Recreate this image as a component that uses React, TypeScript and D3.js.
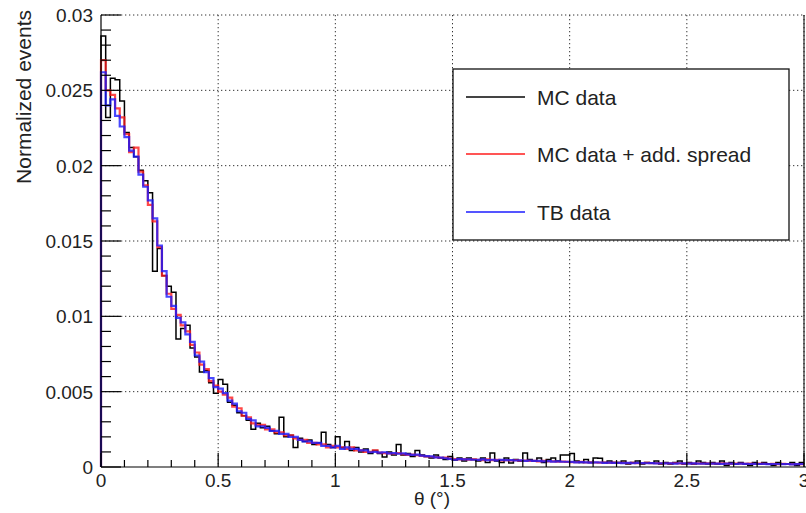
import React, { useEffect, useRef } from "react";
import * as d3 from "d3";

// histogram binning: 150 bins of 0.02 deg between 0 and 3
const binCount = 150;
const binWidth = 0.02;

const mcData = [
  0.0286, 0.0232, 0.0258, 0.0257, 0.0243, 0.0222, 0.0212, 0.0206, 0.0197, 0.019,
  0.0182, 0.013, 0.0145, 0.0127, 0.012, 0.0116, 0.0085, 0.0092, 0.0094, 0.0079,
  0.0073, 0.0063, 0.0064, 0.0056, 0.0049, 0.0058, 0.0055, 0.0043, 0.0041, 0.0036,
  0.0034, 0.0031, 0.0025, 0.0029, 0.0026, 0.0027, 0.0024, 0.0022, 0.0033, 0.002,
  0.0021, 0.0013, 0.0019, 0.0017, 0.0018, 0.0015, 0.0016, 0.0023, 0.0015, 0.0013,
  0.002, 0.0013, 0.0017, 0.0011, 0.0013, 0.001, 0.0012, 0.0009, 0.0011, 0.0009,
  0.00066, 0.001, 0.0008, 0.0015, 0.0008, 0.0009, 0.0007, 0.0011, 0.0008, 0.0007,
  0.0006, 0.0008, 0.0006, 0.0005, 0.0007, 0.00046, 0.0006, 0.0004, 0.0006, 0.0005,
  0.0004, 0.0006, 0.0003, 0.00093, 0.0004, 0.0003, 0.0006, 0.00027, 0.0005, 0.0004,
  0.00093, 0.0005, 0.0004, 0.0006, 0.0003, 0.0005, 0.0006, 0.0004, 0.0008, 0.0008,
  0.0009, 0.0004, 0.0003, 0.0005, 0.0003, 0.0006, 0.00058, 0.0003, 0.0004, 0.0003,
  0.0003, 0.0004, 0.0002, 0.0003, 0.0004, 0.0002, 0.0003, 0.00025, 0.0004, 0.0002,
  0.0003, 0.0002, 0.0003, 0.0004, 0.0002, 0.0003, 0.0002, 0.0004, 0.0003, 0.0002,
  0.0003, 0.0002, 0.0004, 0.0001, 0.0003, 0.0002, 0.0003, 0.0002, 0.0001, 0.0003,
  0.0002, 0.0003, 0.0002, 0.0001, 0.0003, 0.0002, 0.0002, 0.0003, 0.0001, 0.0003,
];

const mcSpread = [
  0.027, 0.025, 0.0247, 0.0238, 0.0232, 0.0221, 0.0209, 0.0212, 0.0196, 0.0187,
  0.0174, 0.0163, 0.0146, 0.0127, 0.0115, 0.0105, 0.0101, 0.0094, 0.009, 0.0081,
  0.0076, 0.0068, 0.0065, 0.0057, 0.0054, 0.005, 0.0048, 0.0046, 0.004, 0.0039,
  0.0034, 0.0033, 0.0029, 0.0028, 0.0028, 0.0025, 0.0025, 0.0023, 0.0023, 0.0021,
  0.0021, 0.0019, 0.0018, 0.0018, 0.0016, 0.0016, 0.0015, 0.0015, 0.0013, 0.0014,
  0.0013, 0.0013, 0.0012, 0.0013, 0.0011, 0.0011, 0.001, 0.001, 0.0011, 0.00095,
  0.00092, 0.0009, 0.00088, 0.00092, 0.00085, 0.0008, 0.00082, 0.00078, 0.00074, 0.0007,
  0.00068, 0.00066, 0.0006, 0.00062, 0.00056, 0.00052, 0.0005, 0.00052, 0.00048, 0.0005,
  0.00048, 0.00046, 0.0005, 0.00045, 0.00047, 0.00044, 0.00046, 0.00043, 0.00045, 0.00042,
  0.00042, 0.0004, 0.00041, 0.00038, 0.0004, 0.00037, 0.00038, 0.00035, 0.00036, 0.00034,
  0.00033, 0.00032, 0.00034, 0.0003, 0.00031, 0.0003, 0.00029, 0.0003, 0.00028, 0.00029,
  0.00027, 0.00028, 0.00026, 0.00027, 0.00026, 0.00025, 0.00027, 0.00025, 0.00026, 0.00024,
  0.00025, 0.00024, 0.00026, 0.00024, 0.00023, 0.00025, 0.00023, 0.00024, 0.00022, 0.00024,
  0.00023, 0.00022, 0.00024, 0.00022, 0.00021, 0.00023, 0.00022, 0.00021, 0.00022, 0.0002,
  0.00022, 0.00021, 0.0002, 0.00021, 0.00019, 0.00021, 0.0002, 0.00019, 0.0002, 0.00019,
];

const tbData = [
  0.0262, 0.024, 0.0244, 0.0233, 0.0226, 0.0219, 0.021, 0.0206, 0.0194, 0.0186,
  0.0177, 0.0165, 0.0147, 0.013, 0.0113, 0.0107, 0.0099, 0.0096, 0.0088, 0.0083,
  0.0074, 0.007, 0.0063, 0.0059, 0.0053, 0.0052, 0.0049, 0.0044, 0.0042, 0.0037,
  0.0036, 0.0032, 0.0031, 0.0027, 0.0027, 0.0026, 0.0024, 0.0024, 0.0022, 0.0022,
  0.002, 0.002, 0.0018, 0.0017, 0.0017, 0.0016, 0.0016, 0.0014, 0.0014, 0.0013,
  0.0014, 0.0012, 0.0013, 0.0012, 0.0012, 0.0011, 0.0011, 0.00098, 0.001, 0.00096,
  0.00098, 0.0009, 0.00092, 0.00088, 0.0009, 0.00084, 0.0008, 0.00082, 0.00076, 0.00072,
  0.0007, 0.00064, 0.00062, 0.00058, 0.00054, 0.00048, 0.00052, 0.0005, 0.0005, 0.00048,
  0.00047, 0.0005, 0.00046, 0.00048, 0.00044, 0.00047, 0.00045, 0.00046, 0.00043, 0.00044,
  0.00041, 0.00043, 0.0004, 0.0004, 0.00038, 0.00039, 0.00036, 0.00037, 0.00035, 0.00035,
  0.00034, 0.00031, 0.00032, 0.00031, 0.00029, 0.00031, 0.0003, 0.00028, 0.00029, 0.00028,
  0.00028, 0.00026, 0.00027, 0.00025, 0.00027, 0.00026, 0.00025, 0.00026, 0.00024, 0.00025,
  0.00024, 0.00025, 0.00023, 0.00025, 0.00024, 0.00022, 0.00024, 0.00023, 0.00023, 0.00022,
  0.00022, 0.00023, 0.00021, 0.00023, 0.00022, 0.0002, 0.00022, 0.00021, 0.0002, 0.00021,
  0.0002, 0.00021, 0.00019, 0.0002, 0.0002, 0.00019, 0.0002, 0.00018, 0.00019, 0.0002,
];

const seriesNames = ["MC data", "MC data + add. spread", "TB data"];
const seriesColors = ["#000000", "#ff1a1a", "#1a1aff"];
const legendColors = ["#444444", "#ff5555", "#5555ff"];

const xMajorTicks = [0, 0.5, 1, 1.5, 2, 2.5, 3];
const xTickLabels = ["0", "0.5", "1", "1.5", "2", "2.5", "3"];
const yMajorTicks = [0, 0.005, 0.01, 0.015, 0.02, 0.025, 0.03];
const yTickLabels = ["0", "0.005", "0.01", "0.015", "0.02", "0.025", "0.03"];

const xTitle = "θ (°)";
const yTitle = "Normalized events";

const FONT = "'Liberation Sans', Arial, Helvetica, sans-serif";

function App() {
  const ref = useRef<SVGSVGElement>(null);

  useEffect(() => {
    const svg = d3.select(ref.current);
    svg.selectAll("*").remove();

    const left = 101;
    const right = 804;
    const top = 15;
    const bottom = 467;

    const x = d3.scaleLinear().domain([0, 3]).range([left, right]);
    const y = d3.scaleLinear().domain([0, 0.03]).range([bottom, top]);

    // dotted grid at major ticks
    const grid = svg.append("g").attr("stroke", "#333").attr("stroke-width", 1)
      .attr("stroke-dasharray", "1.3,2.7");
    xMajorTicks.slice(1).forEach((t) => {
      grid.append("line").attr("x1", x(t)).attr("x2", x(t)).attr("y1", top).attr("y2", bottom);
    });
    yMajorTicks.slice(1).forEach((t) => {
      grid.append("line").attr("x1", left).attr("x2", right).attr("y1", y(t)).attr("y2", y(t));
    });

    // histograms as step lines
    const line = d3.line<[number, number]>().x((d) => x(d[0])).y((d) => y(d[1]));
    const allSeries = [mcData, mcSpread, tbData];
    const widths = [1.5, 2.2, 2.2];
    const plot = svg.append("g");
    allSeries.forEach((vals, k) => {
      const pts: [number, number][] = [[0, 0]];
      for (let i = 0; i < binCount; i++) {
        pts.push([i * binWidth, vals[i]]);
        pts.push([(i + 1) * binWidth, vals[i]]);
      }
      plot.append("path")
        .attr("d", line(pts))
        .attr("fill", "none")
        .attr("stroke", seriesColors[k])
        .attr("stroke-width", widths[k])
        .attr("stroke-opacity", k === 0 ? 1 : 0.8);
    });

    // axes lines
    const ax = svg.append("g").attr("stroke", "#000").attr("stroke-width", 1.2);
    ax.append("line").attr("x1", left).attr("x2", left).attr("y1", top).attr("y2", bottom);
    ax.append("line").attr("x1", left).attr("x2", right + 2).attr("y1", bottom).attr("y2", bottom);
    ax.append("line").attr("x1", right).attr("x2", right).attr("y1", top).attr("y2", bottom)
      .attr("stroke-width", 1);

    // ticks, pointing inside
    d3.range(0, 31).forEach((i) => {
      const v = i * 0.1;
      const major = i % 5 === 0;
      ax.append("line").attr("x1", x(v)).attr("x2", x(v))
        .attr("y1", bottom).attr("y2", bottom - (major ? 14 : 7));
    });
    d3.range(0, 31).forEach((i) => {
      const v = i * 0.001;
      const major = i % 5 === 0;
      ax.append("line").attr("x1", left).attr("x2", left + (major ? 20 : 10))
        .attr("y1", y(v)).attr("y2", y(v));
    });

    // tick labels
    const labels = svg.append("g").attr("font-family", FONT).attr("font-size", 19)
      .attr("fill", "#222");
    xMajorTicks.forEach((t, i) => {
      labels.append("text").attr("x", x(t)).attr("y", 487)
        .attr("text-anchor", "middle").text(xTickLabels[i]);
    });
    yMajorTicks.forEach((t, i) => {
      labels.append("text").attr("x", 93).attr("y", y(t) + 7)
        .attr("text-anchor", "end").text(yTickLabels[i]);
    });

    // axis titles
    svg.append("text").attr("x", 432).attr("y", 505).attr("text-anchor", "middle")
      .attr("font-family", FONT).attr("font-size", 19).attr("fill", "#222").text(xTitle);
    svg.append("text").attr("transform", "translate(31,10) rotate(-90)")
      .attr("text-anchor", "end").attr("font-family", FONT).attr("font-size", 21)
      .attr("fill", "#222").text(yTitle);

    // legend
    const lg = svg.append("g");
    lg.append("rect").attr("x", 453).attr("y", 69).attr("width", 336).attr("height", 171)
      .attr("fill", "#fff").attr("stroke", "#111").attr("stroke-width", 1.3);
    const rowY = [97, 154, 212];
    seriesNames.forEach((name, i) => {
      lg.append("line").attr("x1", 466).attr("x2", 525).attr("y1", rowY[i]).attr("y2", rowY[i])
        .attr("stroke", legendColors[i]).attr("stroke-width", 2);
      lg.append("text").attr("x", 537).attr("y", rowY[i] + 8)
        .attr("font-family", FONT).attr("font-size", 21).attr("fill", "#222").text(name);
    });
  }, []);

  return (
    <svg
      ref={ref}
      width={806}
      height={513}
      style={{ position: "absolute", left: 0, top: 0, background: "#fff" }}
    />
  );
}

export default App;
